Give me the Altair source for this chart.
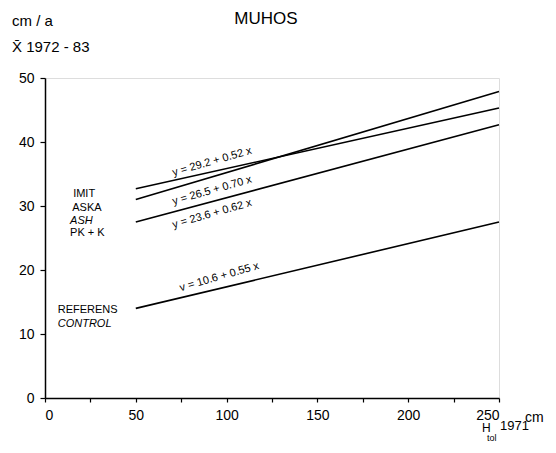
import altair as alt
import pandas as pd

# ---- data ----
series = ["IMIT", "ASKA", "ASH", "REFERENS"]
x_start = [50, 50, 50, 50]
x_end = [250, 250, 250, 250]
y_start = [32.7, 31.0, 27.5, 14.0]
y_end = [45.3, 47.9, 42.7, 27.5]
equations = ["y = 29.2 + 0.52 x", "y = 26.5 + 0.70 x", "y = 23.6 + 0.62 x", "v = 10.6 + 0.55 x"]
x_ticks = [0, 25, 50, 75, 100, 125, 150, 175, 200, 225, 250]
y_ticks = [0, 5, 10, 15, 20, 25, 30, 35, 40, 45, 50]

rows = []
for s, xs, xe, ys, ye in zip(series, x_start, x_end, y_start, y_end):
    rows.append({"series": s, "x": xs, "y": ys})
    rows.append({"series": s, "x": xe, "y": ye})
df = pd.DataFrame(rows)

FONT = "Liberation Sans"

xscale = alt.Scale(domain=[0, 250], nice=False, zero=False)
yscale = alt.Scale(domain=[0, 50], nice=False, zero=False)

lines = alt.Chart(df).mark_line(color="black", strokeWidth=1.6).encode(
    x=alt.X("x:Q", scale=xscale, axis=alt.Axis(
        values=x_ticks, title=None, grid=False, tickSize=4, labelPadding=6,
        labelFontSize=14, labelFont=FONT, labelColor="black", domainColor="black",
        tickColor="black", domainWidth=1.5, tickWidth=1.2,
        labelExpr="datum.value % 50 == 0 ? datum.label : ''")),
    y=alt.Y("y:Q", scale=yscale, axis=alt.Axis(
        values=y_ticks, title=None, grid=False, tickSize=5, labelPadding=6,
        labelFontSize=14, labelFont=FONT, labelColor="black", domainColor="black",
        tickColor="black", domainWidth=1.5, tickWidth=1.2,
        labelExpr="datum.value % 10 == 0 ? datum.label : ''")),
    detail="series:N",
)


def data_text(text, x, y, size=11, angle=0, italic=False, align="left"):
    return alt.Chart(alt.Data(values=[{"t": text, "x": x, "y": y}])).mark_text(
        align=align, baseline="middle", fontSize=size, font=FONT, color="black",
        angle=angle, fontStyle="italic" if italic else "normal",
    ).encode(x=alt.X("x:Q", scale=xscale), y=alt.Y("y:Q", scale=yscale), text="t:N")


def px_text(text, x, y, size=14, align="left"):
    return alt.Chart(alt.Data(values=[{"t": text}])).mark_text(
        align=align, baseline="middle", fontSize=size, font=FONT, color="black",
    ).encode(x=alt.value(x), y=alt.value(y), text="t:N")


layers = [lines]
# equation labels along lines
layers.append(data_text(equations[0], 92, 36.9, size=11, angle=344, align="center"))
layers.append(data_text(equations[1], 92, 32.4, size=11, angle=344, align="center"))
layers.append(data_text(equations[2], 92, 28.75, size=11, angle=344, align="center"))
layers.append(data_text(equations[3], 96, 18.9, size=11, angle=344, align="center"))
# group labels
layers.append(data_text("IMIT", 15.5, 31.9))
layers.append(data_text("ASKA", 15.0, 29.7))
layers.append(data_text("ASH", 13.8, 27.7, italic=True))
layers.append(data_text("PK + K", 13.8, 25.8))
layers.append(data_text("REFERENS", 7.0, 13.75))
layers.append(data_text("CONTROL", 7.0, 11.6, italic=True))
# titles / axis annotations
layers.append(px_text("MUHOS", 221, -59, size=17, align="center"))
layers.append(px_text("cm / a", -33, -57, size=15))
layers.append(px_text("X\u0304 1972 - 83", -33, -31, size=15))
layers.append(px_text("cm", 480, 340, size=14))
layers.append(px_text("H", 437, 350, size=12))
layers.append(px_text("tol", 442, 360, size=9))
layers.append(px_text("1971", 455, 348, size=13))

chart = alt.layer(*layers).properties(
    width=454, height=320,
    autosize=alt.AutoSizeParams(type="none"),
    padding={"left": 37, "top": 70, "right": 48, "bottom": 47},
).configure_view(stroke=None).configure(background="white")

chart.save("out.html", embed_options={"renderer": "svg", "actions": False})
